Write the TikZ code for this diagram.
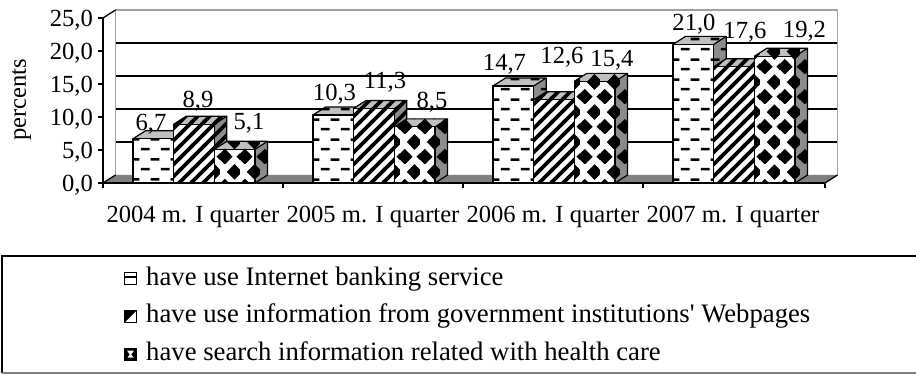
\documentclass[tikz,border=0pt]{standalone}
\usepackage{fontspec}
\setmainfont{Liberation Serif}[Ligatures=TeXOff]
\usetikzlibrary{patterns.meta}

\pgfdeclarepattern{
  name=hdash, type=uncolored,
  bottom left={\pgfpoint{0pt}{0pt}}, top right={\pgfpoint{20pt}{20pt}},
  tile size={\pgfpoint{20pt}{20pt}},
  code={\pgfsetlinewidth{2.6pt}
    \pgfpathmoveto{\pgfpoint{1pt}{5pt}}\pgfpathlineto{\pgfpoint{10pt}{5pt}}
    \pgfpathmoveto{\pgfpoint{11pt}{15pt}}\pgfpathlineto{\pgfpoint{20pt}{15pt}}
    \pgfusepath{stroke}}}
\pgfdeclarepattern{
  name=diagstripe, type=uncolored,
  bottom left={\pgfpoint{-1pt}{-1pt}}, top right={\pgfpoint{13pt}{13pt}},
  tile size={\pgfpoint{12pt}{12pt}},
  code={\pgfsetlinewidth{3.8pt}
    \pgfpathmoveto{\pgfpoint{-1pt}{-1pt}}\pgfpathlineto{\pgfpoint{13pt}{13pt}}
    \pgfpathmoveto{\pgfpoint{-1pt}{11pt}}\pgfpathlineto{\pgfpoint{1pt}{13pt}}
    \pgfpathmoveto{\pgfpoint{11pt}{-1pt}}\pgfpathlineto{\pgfpoint{13pt}{1pt}}
    \pgfusepath{stroke}}}
\pgfdeclarepattern{
  name=diamonds, type=uncolored,
  bottom left={\pgfpoint{0pt}{0pt}}, top right={\pgfpoint{20pt}{30pt}},
  tile size={\pgfpoint{20pt}{30pt}},
  code={
    \pgfpathmoveto{\pgfpoint{5pt}{-0.5pt}}\pgfpathlineto{\pgfpoint{13pt}{7.5pt}}
    \pgfpathlineto{\pgfpoint{5pt}{15.5pt}}\pgfpathlineto{\pgfpoint{-3pt}{7.5pt}}\pgfpathclose
    \pgfpathmoveto{\pgfpoint{25pt}{-0.5pt}}\pgfpathlineto{\pgfpoint{33pt}{7.5pt}}
    \pgfpathlineto{\pgfpoint{25pt}{15.5pt}}\pgfpathlineto{\pgfpoint{17pt}{7.5pt}}\pgfpathclose
    \pgfpathmoveto{\pgfpoint{15pt}{14.5pt}}\pgfpathlineto{\pgfpoint{23pt}{22.5pt}}
    \pgfpathlineto{\pgfpoint{15pt}{30.5pt}}\pgfpathlineto{\pgfpoint{7pt}{22.5pt}}\pgfpathclose
    \pgfusepath{fill}}}

\definecolor{floorgray}{HTML}{808080}
\definecolor{wallgray}{HTML}{A0A0A0}
\definecolor{topgray}{HTML}{C0C0C0}
\definecolor{sidegray}{HTML}{8C8C8C}

\newcommand\drawbar[3]{%
  \pgfmathsetmacro\bxl{#1}%
  \pgfmathsetmacro\bxr{#1+40.67}%
  \pgfmathsetmacro\byt{183-(#2)*6.6}%
  \pgfmathsetmacro\bh{(#2)*6.6}%
  \path[fill=white,postaction={pattern=#3}] (\bxl,183) rectangle (\bxr,\byt);
  \path[fill=topgray,postaction={pattern=#3}] (\bxl,\byt) -- ++(12.5,-8) -- ++(40.67,0) -- (\bxr,\byt) -- cycle;
  \path[fill=sidegray,postaction={pattern=#3}] (\bxr,183) -- (\bxr,\byt) -- ++(12.5,-8) -- ++(0,\bh) -- cycle;
  \draw[barline] (\bxl,183) rectangle (\bxr,\byt);
  \draw[barline] (\bxl,\byt) -- ++(12.5,-8) -- ++(40.67,0) -- (\bxr,\byt);
  \draw[barline] (\bxr,183) -- ++(12.5,-8) -- ++(0,-\bh) ;
}

\begin{document}
\begin{tikzpicture}[x=1pt,y=-1pt,
  barline/.style={draw=black,line width=1.2pt,line join=round},
  axisline/.style={draw=black,line width=1.3pt},
  gridline/.style={draw=black,line width=1.3pt},
  wallline/.style={draw=wallgray,line width=1.3pt},
  chartfont/.style={font=\fontsize{24.6}{29}\selectfont},
  vlbl/.style={chartfont,inner sep=0pt,anchor=base},
  ticklbl/.style={chartfont,inner sep=0pt,anchor=base east},
  catlbl/.style={chartfont,inner sep=0pt,anchor=base},
  leglbl/.style={font=\fontsize{26.7}{31}\selectfont,inner sep=0pt,anchor=base west},
  icon/.style={draw=black,line width=1pt}]
\useasboundingbox (0,0) rectangle (916,374);

% back wall and gridlines
\foreach \v in {5,10,15,20}{
  \draw[gridline] (115.5,{175-6.6*\v}) -- (837.5,{175-6.6*\v});
}
\draw[wallline] (115.5,175) -- (115.5,10) -- (837.5,10) -- (837.5,175);
% floor
\fill[floorgray] (103,183) -- (115.5,175) -- (837.5,175) -- (825,183) -- cycle;
\draw[axisline] (103,183) -- (115.5,175);
\draw[axisline] (825,183) -- (837.5,175);

% bars
\foreach \ci/\va/\vb/\vc in {0/6.7/8.9/5.1, 1/10.3/11.3/8.5, 2/14.7/12.6/15.4, 3/21.0/17.6/19.2}{
  \pgfmathsetmacro\L{133+180*\ci}
  \drawbar{\L}{\va}{hdash}
  \drawbar{\L+40.67}{\vb}{diagstripe}
  \drawbar{\L+81.33}{\vc}{diamonds}
}

% axes
\draw[axisline] (103,18) -- (103,188);
\draw[axisline] (103,18) -- (115.5,10);
\draw[axisline] (103,183) -- (825,183);
\foreach \x in {283,463,643,825}{ \draw[axisline] (\x,183) -- (\x,188); }
\foreach \v in {0,5,10,15,20,25}{ \draw[axisline] (98,{183-6.6*\v}) -- (103,{183-6.6*\v}); }

% y tick labels
\node[ticklbl] (t0) at (93,192) {0,0};
\node[ticklbl] (t5) at (93,159) {5,0};
\node[ticklbl] (t10) at (93,126) {10,0};
\node[ticklbl] (t15) at (93,93) {15,0};
\node[ticklbl] (t20) at (93,60) {20,0};
\node[ticklbl] (t25) at (93,27) {25,0};
\node[chartfont,inner sep=0pt,rotate=90] (ytitle) at (21.5,100) {percents};

% category labels
\node[catlbl] (c1) at (193,223) {2004 m. I quarter};
\node[catlbl] (c2) at (373,223) {2005 m. I quarter};
\node[catlbl] (c3) at (553,223) {2006 m. I quarter};
\node[catlbl] (c4) at (733,223) {2007 m. I quarter};

% value labels
\node[vlbl] (v11) at (151,131) {6,7};
\node[vlbl] (v12) at (198,108) {8,9};
\node[vlbl] (v13) at (249,130) {5,1};
\node[vlbl] (v21) at (334.5,101) {10,3};
\node[vlbl] (v22) at (385,89) {11,3};
\node[vlbl] (v23) at (432,109) {8,5};
\node[vlbl] (v31) at (504.5,71) {14,7};
\node[vlbl] (v32) at (562,64) {12,6};
\node[vlbl] (v33) at (612,67) {15,4};
\node[vlbl] (v41) at (694,31) {21,0};
\node[vlbl] (v42) at (745,39) {17,6};
\node[vlbl] (v43) at (804.5,38) {19,2};

% legend
\draw[black,line width=1.3pt] (916,256) -- (2,256) -- (2,373);
\draw[floorgray,line width=1.3pt] (2,373) -- (916,373);
% icon 1
\draw[icon,fill=white] (124.5,273) rectangle (136.5,285);
\draw[black,line width=1.5pt] (124.5,277) -- (136.5,277);
% icon 2
\fill[black] (124.5,310.5) -- (136.5,310.5) -- (124.5,322.5) -- cycle;
\draw[icon] (124.5,310.5) rectangle (136.5,322.5);
% icon 3
\fill[black] (124.5,348) rectangle (136.5,360);
\fill[white] (127,350.5) -- (134,350.5) -- (131.2,354.5) -- (133.5,357.5) -- (127.5,357.5) -- (129.8,354.5) -- cycle;
\draw[icon] (124.5,348) rectangle (136.5,360);
\node[leglbl] (l1) at (146,285) {have use Internet banking service};
\node[leglbl] (l2) at (146,322.5) {have use information from government institutions' Webpages};
\node[leglbl] (l3) at (146,360) {have search information related with health care};
\end{tikzpicture}
\end{document}
